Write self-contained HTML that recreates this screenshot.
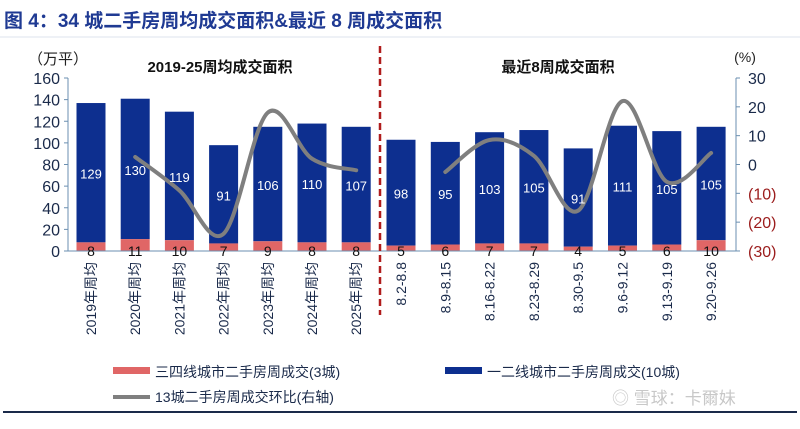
<!DOCTYPE html>
<html><head><meta charset="utf-8"><style>
body{margin:0;background:#fff;width:800px;height:424px;overflow:hidden;font-family:"Liberation Sans","Noto Sans CJK SC",sans-serif;}
</style></head><body>
<svg id="s" width="800" height="424" viewBox="0 0 800 424" xmlns="http://www.w3.org/2000/svg" font-family="Liberation Sans, Noto Sans CJK SC, sans-serif">
<text x="4" y="27" font-size="19" font-weight="bold" fill="#1f3a93">图 4：34 城二手房周均成交面积&amp;最近 8 周成交面积</text>
<line x1="0" y1="37" x2="800" y2="37" stroke="#dde3ee" stroke-width="1"/>
<text x="28" y="64" font-size="15" fill="#222">（万平）</text>
<text x="220" y="72" font-size="15" font-weight="bold" fill="#111" text-anchor="middle">2019-25周均成交面积</text>
<text x="558" y="72" font-size="15" font-weight="bold" fill="#111" text-anchor="middle">最近8周成交面积</text>
<text x="745" y="62" font-size="14" fill="#222" text-anchor="middle">(%)</text>
<g id="bars"></g>
<line x1="68" y1="78" x2="68" y2="251" stroke="#6b8fb0" stroke-width="1"/>
<line x1="68" y1="251" x2="736" y2="251" stroke="#6b8fb0" stroke-width="1"/>
<line x1="736" y1="78" x2="736" y2="251" stroke="#6b8fb0" stroke-width="1"/>
<line x1="380" y1="46" x2="380" y2="315" stroke="#b01c1c" stroke-width="2.5" stroke-dasharray="7,4"/>
<g id="ax" font-size="16" fill="#1a2a4a"></g>
<path id="ln" fill="none" stroke="#7f7f7f" stroke-width="4" stroke-linecap="round"/>
<g id="lab"></g>
<rect x="113" y="367" width="37" height="7" fill="#e06666"/>
<text x="155" y="377" font-size="14" fill="#1a2a4a">三四线城市二手房周成交(3城)</text>
<rect x="445" y="367" width="37" height="7" fill="#0d2f8f"/>
<text x="487" y="377" font-size="14" fill="#1a2a4a">一二线城市二手房周成交(10城)</text>
<line x1="113" y1="397" x2="150" y2="397" stroke="#7f7f7f" stroke-width="4"/>
<text x="155" y="402" font-size="14" fill="#1a2a4a">13城二手房周成交环比(右轴)</text>
<text x="612" y="404" font-size="17" fill="#c8c8c8">◎ 雪球：卡爾妹</text>
<line x1="3" y1="412" x2="797" y2="412" stroke="#1a2a4a" stroke-width="2"/>
</svg>
<script>
var NS="http://www.w3.org/2000/svg";
function el(p,t,a,txt){var e=document.createElementNS(NS,t);for(var k in a)e.setAttribute(k,a[k]);if(txt!=null)e.textContent=txt;document.getElementById(p).appendChild(e);return e;}
var red=[8,11,10,7,9,8,8,5,6,7,7,4,5,6,10],blue=[129,130,119,91,106,110,107,98,95,103,105,91,111,105,105];
var labs=["2019年周均","2020年周均","2021年周均","2022年周均","2023年周均","2024年周均","2025年周均","8.2-8.8","8.9-8.15","8.16-8.22","8.23-8.29","8.30-9.5","9.6-9.12","9.13-9.19","9.20-9.26"];
var cx=[];for(var i=0;i<7;i++)cx.push(91+44.2*i);for(i=0;i<8;i++)cx.push(401+44.3*i);
var k=1.08,b0=251;
for(i=0;i<15;i++){var ry=b0-red[i]*k,ty=b0-(red[i]+blue[i])*k;
el("bars","rect",{x:cx[i]-14.5,y:ty,width:29,height:ry-ty,fill:"#0d2f8f"});
el("bars","rect",{x:cx[i]-14.5,y:ry,width:29,height:b0-ry,fill:"#e06666"});
el("lab","text",{x:cx[i],y:(ty+ry)/2+6,"font-size":13,fill:"#fff","text-anchor":"middle"},blue[i]);
el("lab","text",{x:cx[i],y:256,"font-size":14,fill:"#111","text-anchor":"middle"},red[i]);
el("lab","text",{transform:"translate("+(cx[i]+5)+",262) rotate(-90)","font-size":14,fill:"#1a2a4a","text-anchor":"end"},labs[i]);
}
for(i=0;i<=8;i++){var y=251-i*21.625;el("ax","text",{x:60,y:y+6,"text-anchor":"end"},i*20);el("ax","line",{x1:64,y1:y,x2:68,y2:y,stroke:"#6b8fb0"});}
var rl=["30","20","10","0","(10)","(20)","(30)"];
for(i=0;i<7;i++){var y=78+i*28.83;el("ax","text",{x:748,y:y+6,fill:i>3?"#9b1c1c":"#1a2a4a"},rl[i]);el("ax","line",{x1:736,y1:y,x2:740,y2:y,stroke:"#6b8fb0"});}
function ly(v){return 164.5-v*2.883;}
function path(xs,vs){var p=xs.map(function(x,j){return[x,ly(vs[j])];});var d="M"+p[0][0]+","+p[0][1];
for(var j=0;j<p.length-1;j++){var a=p[j-1]||p[j],b=p[j],c=p[j+1],e=p[j+2]||c;
d+=" C"+(b[0]+(c[0]-a[0])/6)+","+(b[1]+(c[1]-a[1])/6)+" "+(c[0]-(e[0]-b[0])/6)+","+(c[1]-(e[1]-b[1])/6)+" "+c[0]+","+c[1];}return d;}
var d1=path(cx.slice(1,7),[2.6,-9,-24,18,2,-2]);
var d2=path(cx.slice(8,15),[-2.6,8.5,3,-16,22,-6,4]);
document.getElementById("ln").setAttribute("d",d1+" "+d2);
</script>
</body></html>
